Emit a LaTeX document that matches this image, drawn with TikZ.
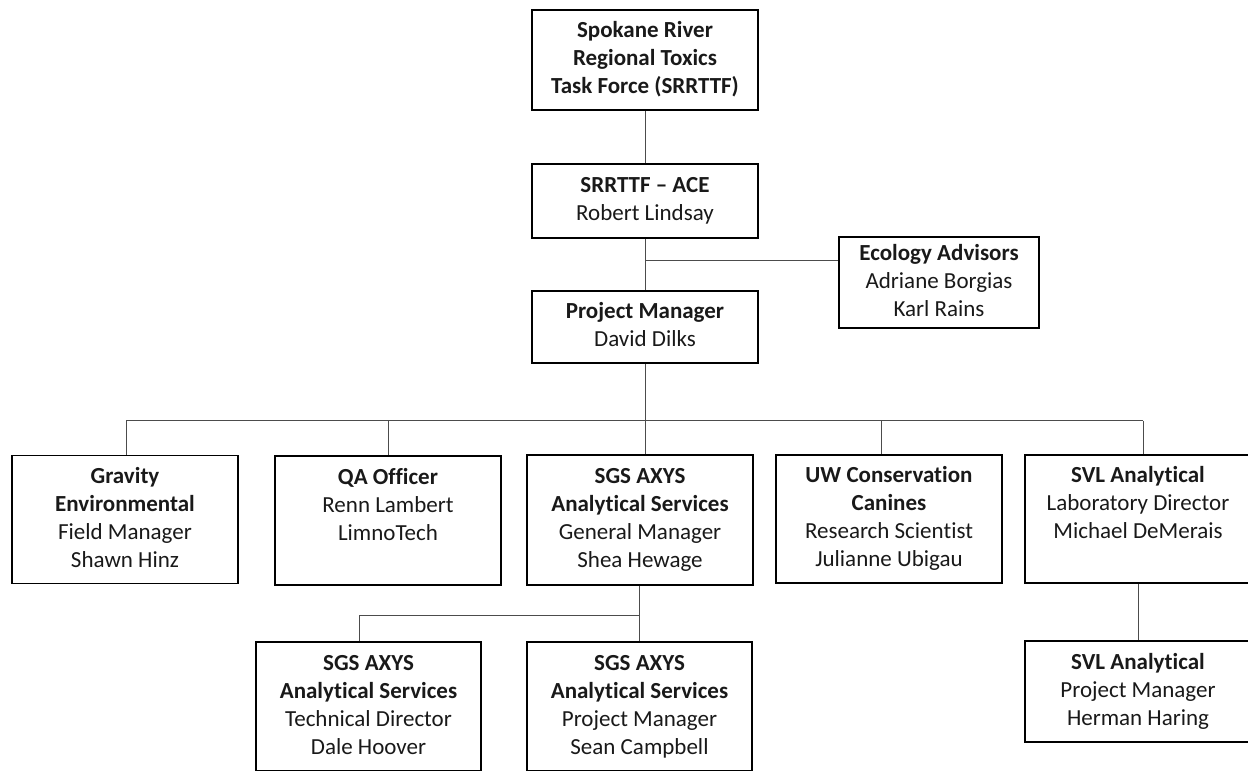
\documentclass[tikz,border=0pt]{standalone}
\usepackage{fontspec}
\setmainfont{Carlito}[Ligatures={TeX,CommonOff}]
\begin{document}
\begin{tikzpicture}[x=1pt,y=-1pt,
  box/.style={draw=black, line width=1.6pt, align=center, minimum width=226pt,
    inner sep=0pt, font=\fontsize{23}{28}\selectfont, text=black!90},
  conn/.style={draw=black!70, line width=1pt}]
\useasboundingbox (0,0) rectangle (1248,771);

% boxes
\node[box, minimum height=100pt] (top) at (645,60)
  {\strut\textbf{Spokane River}\\\textbf{Regional Toxics}\\\textbf{Task Force (SRRTTF)}\strut};
\node[box, minimum height=74pt] (ace) at (645,201)
  {\strut\textbf{SRRTTF – ACE}\\Robert Lindsay\strut};
\node[box, minimum width=200pt, minimum height=91pt] (eco) at (939,282.5)
  {\strut\textbf{Ecology Advisors}\\Adriane Borgias\\Karl Rains\strut};
\node[box, minimum height=72pt] (pm) at (645,327)
  {\strut\textbf{Project Manager}\\David Dilks\strut};

\node[box, minimum height=128pt] (grav) at (125,519.5)
  {\strut\textbf{Gravity}\\\textbf{Environmental}\\Field Manager\\Shawn Hinz\strut};
\node[box, minimum height=129pt] (qa) at (388,520.5)
  {\strut\textbf{QA Officer}\\Renn Lambert\\LimnoTech\\\strut};
\node[box, minimum height=130pt] (sgs) at (640,520)
  {\strut\textbf{SGS AXYS}\\\textbf{Analytical Services}\\General Manager\\Shea Hewage\strut};
\node[box, minimum height=128pt] (uw) at (889,519)
  {\strut\textbf{UW Conservation}\\\textbf{Canines}\\Research Scientist\\Julianne Ubigau\strut};
\node[box, minimum height=128pt] (svl) at (1138,519)
  {\strut\textbf{SVL Analytical}\\Laboratory Director\\Michael DeMerais\\\strut};

\node[box, minimum width=225pt, minimum height=129pt] (tech) at (368.5,706.5)
  {\strut\textbf{SGS AXYS}\\\textbf{Analytical Services}\\Technical Director\\Dale Hoover\strut};
\node[box, minimum width=225pt, minimum height=129pt] (spm) at (639.5,706.5)
  {\strut\textbf{SGS AXYS}\\\textbf{Analytical Services}\\Project Manager\\Sean Campbell\strut};
\node[box, minimum height=101pt] (svl2) at (1138,691.5)
  {\strut\textbf{SVL Analytical}\\Project Manager\\Herman Haring\strut};

% connectors
\draw[conn] (top) -- (ace);
\draw[conn] (ace) -- (pm);
\coordinate (ecoJ) at (645,260);
\draw[conn] (ecoJ) -- (eco.west |- ecoJ);

\coordinate (bus) at (645,420.5);
\coordinate (tG) at (126,420.5);
\coordinate (tQ) at (388,420.5);
\coordinate (tU) at (881,420.5);
\coordinate (tV) at (1143,420.5);
\draw[conn] (pm.south) -- (bus);
\draw[conn] (tG) -- (tV);
\draw[conn] (tG) -- (tG |- grav.north);
\draw[conn] (tQ) -- (tQ |- qa.north);
\draw[conn] (bus) -- (bus |- sgs.north);
\draw[conn] (tU) -- (tU |- uw.north);
\draw[conn] (tV) -- (tV |- svl.north);

\coordinate (sj) at (639,615);
\coordinate (sl) at (359,615);
\draw[conn] (sj |- sgs.south) -- (sj |- spm.north);
\draw[conn] (sj) -- (sl) -- (sl |- tech.north);

\draw[conn] (svl) -- (svl2);
\end{tikzpicture}
\end{document}
